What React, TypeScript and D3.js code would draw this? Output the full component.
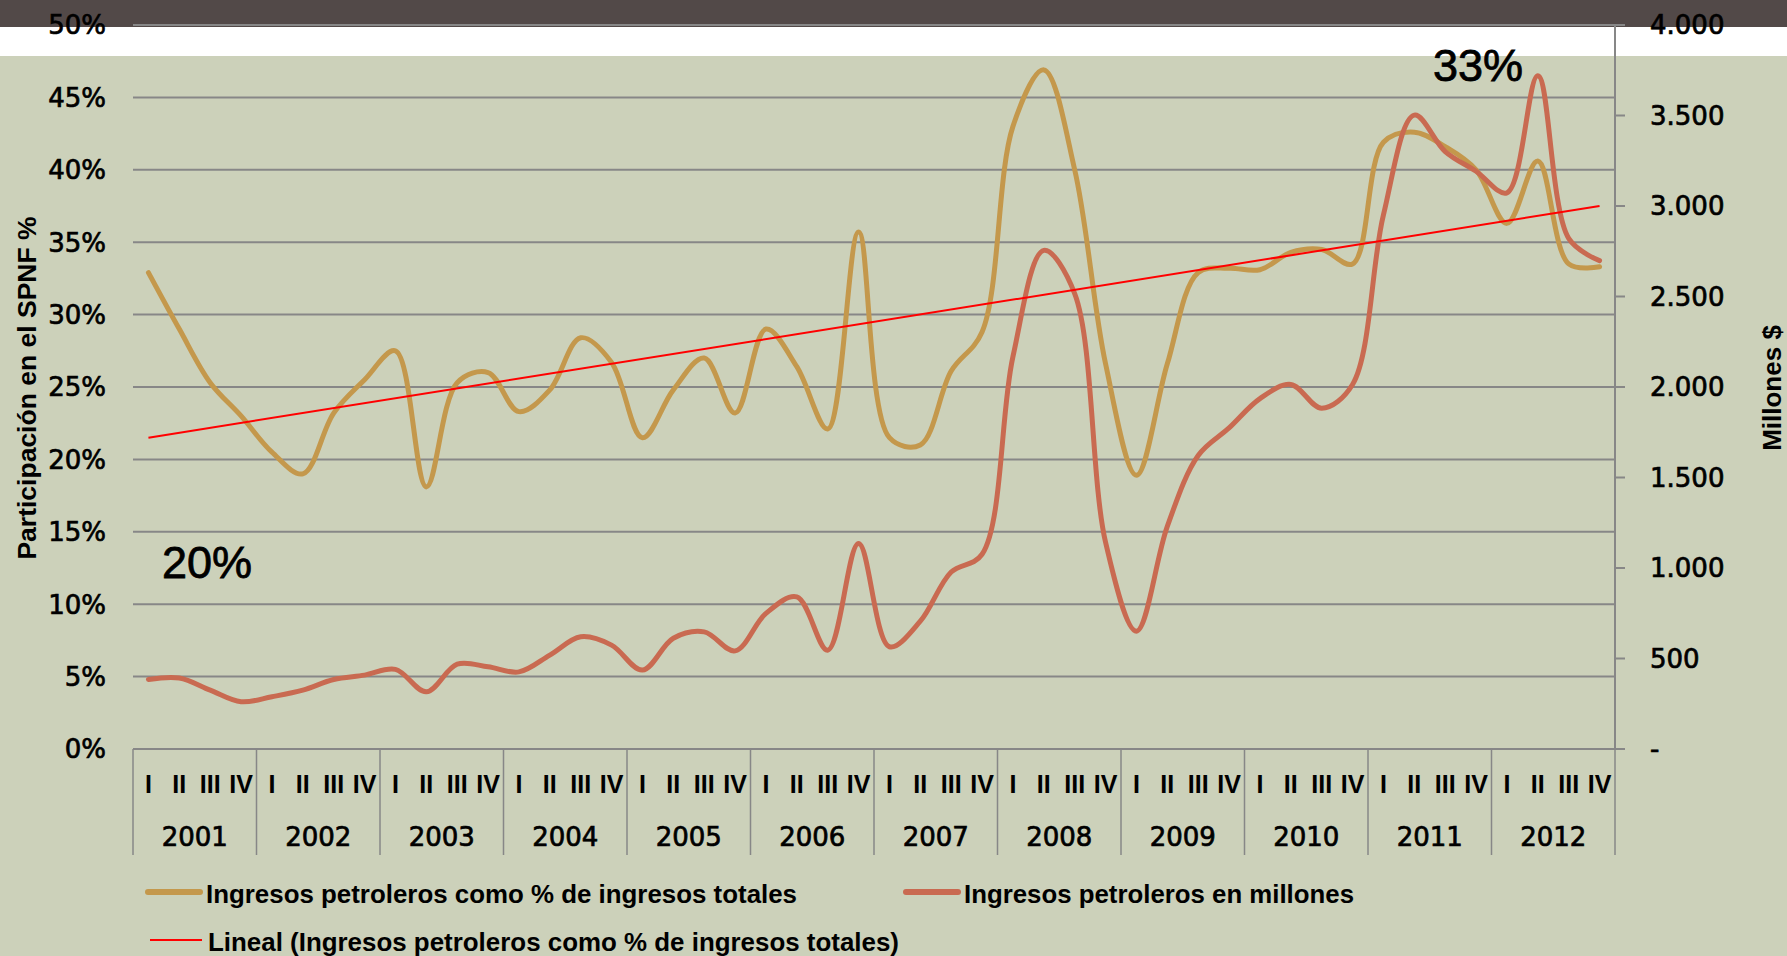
import * as d3 from "d3";
import { useEffect, useRef } from "react";

// quarters 2001 I .. 2012 IV
const years = ["2001", "2002", "2003", "2004", "2005", "2006", "2007", "2008", "2009", "2010", "2011", "2012"];
const quarters = ["I", "II", "III", "IV"];

// Ingresos petroleros como % de ingresos totales (left axis)
const sharePct = [
    32.9, 29.0, 25.3, 23.0, 20.5, 19.0, 23.2, 25.5, 27.5, 18.1, 25.3, 26.0,
    23.3, 24.8, 28.4, 26.7, 21.5, 24.8, 27.0, 23.2, 29.0, 26.4, 22.1, 35.7,
    21.5, 21.0, 26.1, 28.8, 43.0, 46.9, 40.0, 26.6, 18.9, 26.6, 32.9, 33.2,
    33.1, 34.3, 34.5, 33.5, 41.9, 42.6, 41.6, 40.0, 36.3, 40.6, 33.5, 33.3,
];

// Ingresos petroleros en millones (right axis)
const oilMillions = [
    384, 392, 325, 261, 289, 325, 384, 408, 440, 316, 469, 454,
    426, 519, 620, 574, 436, 612, 647, 542, 749, 840, 546, 1135,
    565, 706, 978, 1076, 2168, 2755, 2516, 1142, 651, 1230, 1622, 1774,
    1936, 2014, 1883, 2014, 2951, 3502, 3301, 3192, 3073, 3720, 2821, 2698,
];

// linear trend of sharePct, first and last quarter
const trendPct = [21.5, 37.5];

const leftTicks = [0, 5, 10, 15, 20, 25, 30, 35, 40, 45, 50];
const rightTicks = [0, 500, 1000, 1500, 2000, 2500, 3000, 3500, 4000];

const legendLabels = [
    "Ingresos petroleros como % de ingresos totales",
    "Ingresos petroleros en millones",
    "Lineal (Ingresos petroleros como % de ingresos totales)",
];

const W = 1787;
const H = 956;
const left = 133;
const right = 1615;
const top = 25;
const bottom = 749;

const gold = "#c4984c";
const rust = "#c96a51";
const grid = "#878787";
const axisFont = "'DejaVu Sans', Verdana, sans-serif";
const labelFont = "'Liberation Sans Narrow', 'Arial Narrow', 'Liberation Sans', Arial, sans-serif";

export default function App() {
    const svgRef = useRef<SVGSVGElement>(null);

    useEffect(() => {
        if (svgRef.current) {
            drawChart();
        }
    }, [svgRef]);

    const drawChart = () => {
        const svg = d3.select(svgRef.current);
        svg.selectAll("*").remove();

        const keys = years.flatMap((y) => quarters.map((q) => y + "-" + q));
        const x = d3.scalePoint<string>().domain(keys).range([left, right]).padding(0.5);
        const step = x.step();
        const yLeft = d3.scaleLinear().domain([0, 50]).range([bottom, top]);
        const yRight = d3.scaleLinear().domain([0, 4000]).range([bottom, top]);

        // background, header bands
        svg.append("rect").attr("width", W).attr("height", H).attr("fill", "#ccd1ba");
        svg.append("rect").attr("width", W).attr("height", 27).attr("fill", "#524948");
        svg.append("rect").attr("y", 27).attr("width", W).attr("height", 29).attr("fill", "#ffffff");

        // horizontal grid
        svg.append("g")
            .selectAll("line")
            .data(leftTicks.filter((t) => t > 0))
            .join("line")
            .attr("x1", left)
            .attr("x2", right)
            .attr("y1", (d) => yLeft(d))
            .attr("y2", (d) => yLeft(d))
            .attr("stroke", grid)
            .attr("stroke-width", 2);

        // category axis
        svg.append("line")
            .attr("x1", left).attr("x2", right + 10)
            .attr("y1", bottom).attr("y2", bottom)
            .attr("stroke", grid).attr("stroke-width", 2);
        const bounds = years.map((y) => x(y + "-I")! - step / 2).concat([right]);
        svg.append("g")
            .selectAll("line")
            .data(bounds)
            .join("line")
            .attr("x1", (d) => d).attr("x2", (d) => d)
            .attr("y1", bottom).attr("y2", 855)
            .attr("stroke", grid).attr("stroke-width", 1.5);

        // right axis line and ticks
        svg.append("line")
            .attr("x1", right).attr("x2", right)
            .attr("y1", top).attr("y2", bottom)
            .attr("stroke", grid).attr("stroke-width", 2);
        svg.append("g")
            .selectAll("line")
            .data(rightTicks)
            .join("line")
            .attr("x1", right).attr("x2", right + 10)
            .attr("y1", (d) => yRight(d)).attr("y2", (d) => yRight(d))
            .attr("stroke", grid).attr("stroke-width", 2);

        // left tick labels
        svg.append("g")
            .selectAll("text")
            .data(leftTicks)
            .join("text")
            .attr("x", 106)
            .attr("y", (d) => yLeft(d))
            .attr("dy", "0.36em")
            .attr("text-anchor", "end")
            .attr("stroke", "#000")
            .attr("stroke-width", 0.7)
            .style("font-family", axisFont)
            .style("font-size", "26px")
            .text((d) => d + "%");

        // right tick labels
        const fmt = d3.formatLocale({ decimal: ",", thousands: ".", grouping: [3], currency: ["", ""] }).format(",d");
        svg.append("g")
            .selectAll("text")
            .data(rightTicks)
            .join("text")
            .attr("x", 1650)
            .attr("y", (d) => yRight(d))
            .attr("dy", "0.36em")
            .attr("stroke", "#000")
            .attr("stroke-width", 0.7)
            .style("font-family", axisFont)
            .style("font-size", "26px")
            .text((d) => (d === 0 ? "-" : fmt(d)));

        // quarter and year labels
        svg.append("g")
            .selectAll("text")
            .data(keys)
            .join("text")
            .attr("x", (d) => x(d)!)
            .attr("y", 793)
            .attr("text-anchor", "middle")
            .style("font-family", labelFont)
            .style("font-weight", "bold")
            .style("font-size", "25px")
            .text((d) => d.split("-")[1]);
        svg.append("g")
            .selectAll("text")
            .data(years)
            .join("text")
            .attr("x", (d) => x(d + "-I")! - step / 2 + step * 2)
            .attr("y", 846)
            .attr("text-anchor", "middle")
            .attr("stroke", "#000")
            .attr("stroke-width", 0.7)
            .style("font-family", axisFont)
            .style("font-size", "26px")
            .text((d) => d);

        // axis titles
        svg.append("text")
            .attr("transform", "translate(36,388) rotate(-90)")
            .attr("text-anchor", "middle")
            .style("font-family", "'Liberation Sans', Arial, sans-serif")
            .style("font-weight", "bold")
            .style("font-size", "26.5px")
            .text("Participación en el SPNF %");
        svg.append("text")
            .attr("transform", "translate(1781,388) rotate(-90)")
            .attr("text-anchor", "middle")
            .style("font-family", "'Liberation Sans', Arial, sans-serif")
            .style("font-weight", "bold")
            .style("font-size", "26px")
            .text("Millones $");

        // series
        const curve = d3.curveCatmullRom.alpha(0.5);
        const shareLine = d3.line<number>()
            .x((d, i) => x(keys[i])!)
            .y((d) => yLeft(d))
            .curve(curve);
        const oilLine = d3.line<number>()
            .x((d, i) => x(keys[i])!)
            .y((d) => yRight(d))
            .curve(curve);

        svg.append("path")
            .datum(sharePct)
            .attr("fill", "none")
            .attr("stroke", gold)
            .attr("stroke-width", 5)
            .attr("stroke-linejoin", "round")
            .attr("stroke-linecap", "round")
            .attr("d", shareLine);
        svg.append("path")
            .datum(oilMillions)
            .attr("fill", "none")
            .attr("stroke", rust)
            .attr("stroke-width", 5)
            .attr("stroke-linejoin", "round")
            .attr("stroke-linecap", "round")
            .attr("d", oilLine);

        // trend line
        const trendKeys = [keys[0], keys[keys.length - 1]];
        svg.append("path")
            .datum(trendPct)
            .attr("fill", "none")
            .attr("stroke", "#ff0000")
            .attr("stroke-width", 2)
            .attr("d", d3.line<number>().x((d, i) => x(trendKeys[i])!).y((d) => yLeft(d)));

        // annotations
        svg.append("text")
            .attr("x", 162).attr("y", 578)
            .attr("stroke", "#000")
            .attr("stroke-width", 0.8)
            .style("font-family", "'Liberation Sans', Arial, sans-serif")
            .style("font-size", "45px")
            .text("20%");
        svg.append("text")
            .attr("x", 1433).attr("y", 81)
            .attr("stroke", "#000")
            .attr("stroke-width", 0.8)
            .style("font-family", "'Liberation Sans', Arial, sans-serif")
            .style("font-size", "45px")
            .text("33%");

        // legend
        const legend = [
            { label: legendLabels[0], color: gold, width: 6, x: 148, y: 892, len: 591 },
            { label: legendLabels[1], color: rust, width: 6, x: 906, y: 892, len: 390 },
            { label: legendLabels[2], color: "#ff0000", width: 2, x: 150, y: 940, len: 691 },
        ];
        const items = svg.append("g").selectAll("g").data(legend).join("g");
        items.append("line")
            .attr("x1", (d) => d.x)
            .attr("x2", (d) => d.x + 52)
            .attr("y1", (d) => d.y)
            .attr("y2", (d) => d.y)
            .attr("stroke", (d) => d.color)
            .attr("stroke-width", (d) => d.width)
            .attr("stroke-linecap", (d) => (d.width > 3 ? "round" : "butt"));
        items.append("text")
            .attr("x", (d) => d.x + 58)
            .attr("y", (d) => d.y + 11)
            .attr("textLength", (d) => d.len)
            .attr("lengthAdjust", "spacingAndGlyphs")
            .style("font-family", labelFont)
            .style("font-weight", "bold")
            .style("font-size", "26px")
            .text((d) => d.label);
    };

    return (
        <svg
            ref={svgRef}
            width={W}
            height={H}
            style={{ position: "absolute", left: 0, top: 0, display: "block" }}
        />
    );
}
